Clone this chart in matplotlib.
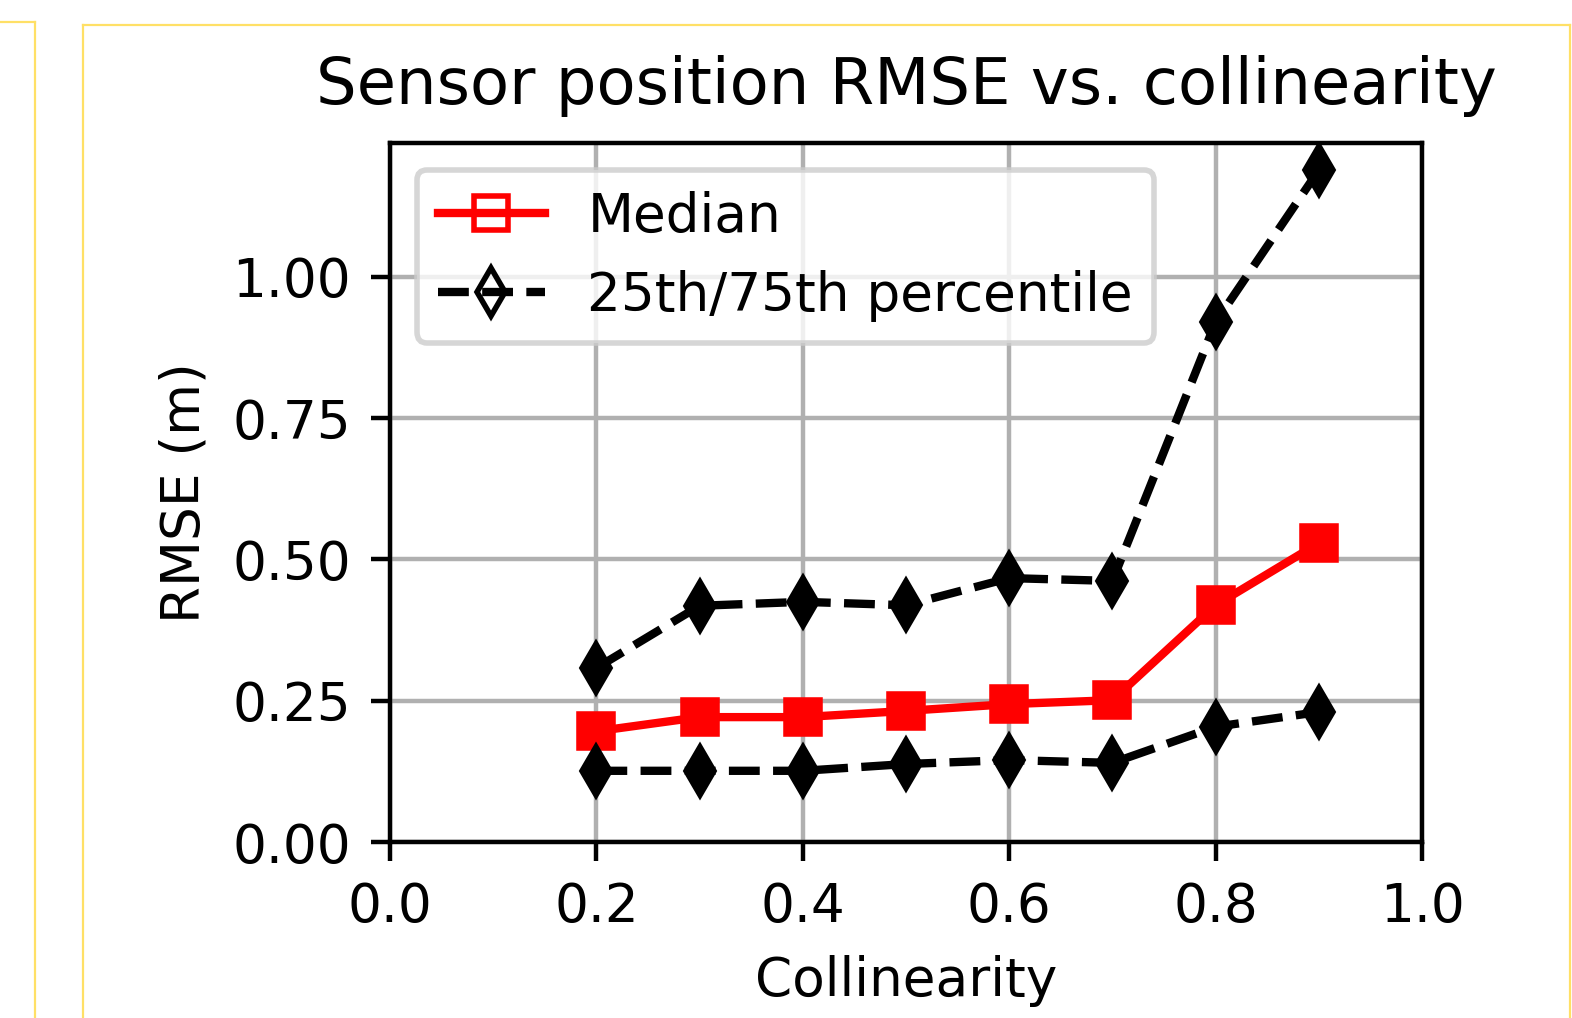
import numpy as np
import matplotlib
matplotlib.use("Agg")
import matplotlib.pyplot as plt
from matplotlib.lines import Line2D

collinearity = [0.2, 0.3, 0.4, 0.5, 0.6, 0.7, 0.8, 0.9]
median = [0.196, 0.221, 0.221, 0.232, 0.244, 0.251, 0.419, 0.529]
p75 = [0.308, 0.418, 0.425, 0.419, 0.467, 0.462, 0.920, 1.189]
p25 = [0.126, 0.126, 0.126, 0.138, 0.145, 0.140, 0.204, 0.230]

plt.rcParams['font.size'] = 9.6

W, H = 1572, 1018
fig = plt.figure(figsize=(W / 400, H / 400), dpi=400)
ax = fig.add_axes([390 / W, 1 - 842 / H, (1422 - 390) / W, (842 - 143) / H])

ax.plot(collinearity, median, 'rs-')
ax.plot(collinearity, p75, 'kd--')
ax.plot(collinearity, p25, 'kd--')

ax.set_xlim(0, 1)
ax.set_ylim(0, 1.237)
ax.set_yticks([0, 0.25, 0.5, 0.75, 1.0])
ax.grid(True)
ax.set_title('Sensor position RMSE vs. collinearity', pad=7)
ax.set_xlabel('Collinearity')
ax.set_ylabel('RMSE (m)')

handles = [Line2D([], [], color='r', marker='s', ls='-', mfc='none'),
           Line2D([], [], color='k', marker='d', ls='--', mfc='none')]
ax.legend(handles, ['Median', '25th/75th percentile'], loc='upper left')

# yellow frame lines around the picture
yc = '#ffe066'
lw = 0.4
fig.add_artist(Line2D([34.5 / W, 34.5 / W], [0, 1 - 21.5 / H], color=yc, lw=lw))
fig.add_artist(Line2D([0, 34.5 / W], [1 - 21.5 / H, 1 - 21.5 / H], color=yc, lw=lw))
fig.add_artist(Line2D([82.5 / W, 82.5 / W], [0, 1 - 24.5 / H], color=yc, lw=lw))
fig.add_artist(Line2D([82.5 / W, 1570 / W], [1 - 24.5 / H, 1 - 24.5 / H], color=yc, lw=lw))
fig.add_artist(Line2D([1570 / W, 1570 / W], [0, 1 - 24.5 / H], color=yc, lw=lw))

fig.savefig('out.png', dpi=400)
